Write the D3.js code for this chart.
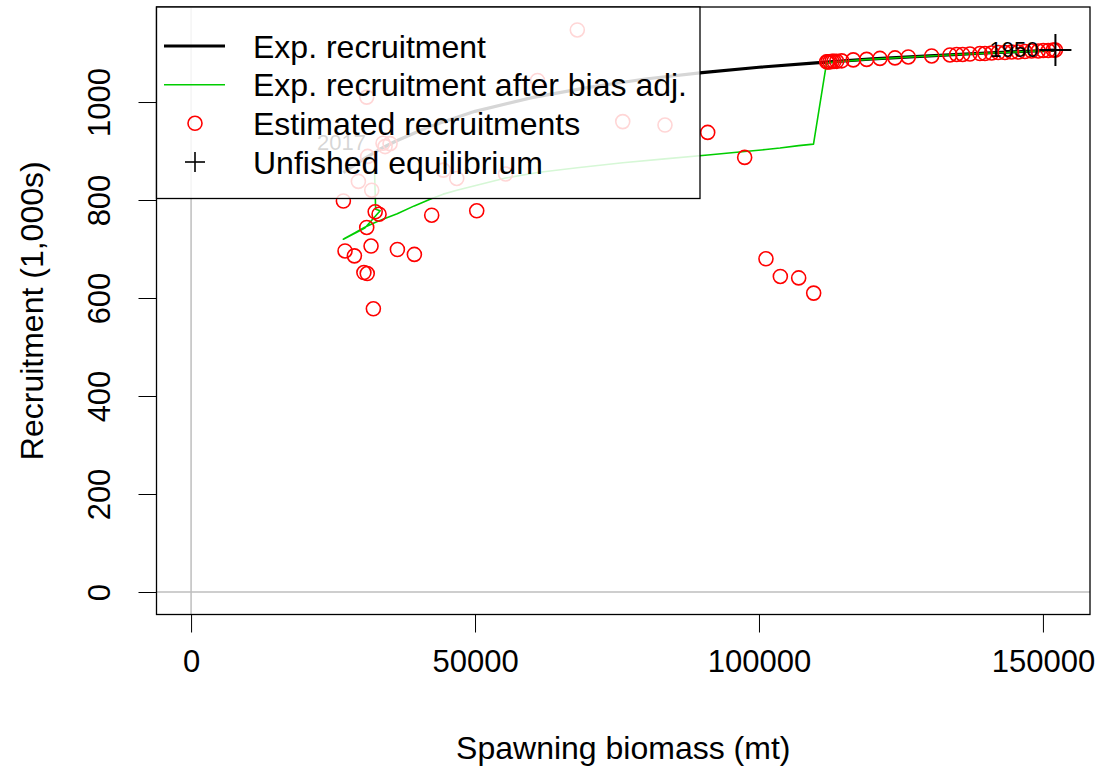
<!DOCTYPE html>
<html>
<head>
<meta charset="utf-8">
<script src="https://cdn.jsdelivr.net/npm/d3@7"></script>
<style>
  html, body { margin: 0; padding: 0; background: #ffffff; }
  svg { display: block; font-family: "Liberation Sans", Arial, Helvetica, sans-serif; }
</style>
</head>
<body>
<svg id="chart" width="1097" height="768"></svg>
<script>
// ---------------- data ----------------
const xLim = [0, 152200];   // spawning biomass range (mt)
const yLim = [0, 1148];     // recruitment range (1,000s)
const xTicks = [0, 50000, 100000, 150000];
const yTicks = [0, 200, 400, 600, 800, 1000];

// Expected recruitment curve (SSB, R) sorted by SSB
const expSSB = [26820, 30000, 33000, 36000, 42000, 50000, 60000, 70000, 80000, 90000, 100000, 110000, 120000, 130000, 140000, 152200];
const expRec = [856, 881, 902, 920, 950, 981, 1009, 1030, 1047, 1060, 1071, 1080, 1088, 1094, 1100, 1106];

// Expected recruitment after bias adjustment (path order, 1950 -> 2017)
const adjSSB = [152200, 145000, 135000, 125000, 118000, 111900, 109600, 107000, 103700, 101200, 97500, 91000, 83400, 76000, 68000, 61000, 55400, 50300, 46800, 44400, 42400, 39300, 36300, 34000, 32000, 30500, 28800, 27100, 26820, 30600, 33300, 32500, 32300];
const adjRec = [1106, 1102, 1097, 1091, 1086, 1080, 914, 911, 906, 903, 899, 892, 884, 876, 866, 856, 845, 830, 820, 812, 803, 788, 772, 762, 752, 744, 733, 722, 720, 743, 778, 781, 861];

// Estimated recruitments (SSB, R)
const estSSB = [
  152200, 151820, 150940, 150060, 149180, 148010, 146830, 145660, 144490, 143310,
  142130, 140970, 139790, 138910, 137150, 135870, 134810, 133630, 130410, 126290,
  123950, 121300, 118960, 116600, 114560, 113680, 113210, 112860, 112500, 112150,
  111920, 109630, 106990, 103760, 101230, 97480, 90970, 83450, 76010, 68010,
  61000, 55370, 50300, 46780, 44420, 42370, 39320, 36330, 35040, 34160,
  32420, 33100, 32100, 31810, 31690, 31100, 30930, 30930, 30430, 31020,
  29460, 28760, 27110, 26820, 33800
];
const estRec = [
  1106, 1106, 1105, 1105, 1104, 1104, 1103, 1102, 1102, 1101,
  1101, 1100, 1099, 1099, 1098, 1097, 1097, 1096, 1094, 1092,
  1090, 1089, 1087, 1086, 1084, 1083, 1083, 1083, 1082, 1082,
  1082, 610, 641, 644, 680, 887, 938, 953, 960, 1147,
  1044, 853, 778, 844, 861, 769, 689, 699, 915, 909,
  776, 771, 578, 820, 706, 889, 744, 1010, 652, 650,
  838, 686, 696, 798, 916
];

// Year labels for first and last points
const yearLabels = ["1950", "2017"];
const yearLabelSSB = [152200, 33800];
const yearLabelRec = [1109, 919];

// Unfished equilibrium
const unfishedSSB = [152200];
const unfishedRec = [1106];

const legendLabels = ["Exp. recruitment", "Exp. recruitment after bias adj.", "Estimated recruitments", "Unfished equilibrium"];

// ---------------- layout ----------------
const W = 1097, H = 768;
const plotL = 156.5, plotR = 1090, plotT = 7, plotB = 614.5;
const padX = (xLim[1] - xLim[0]) * 0.04, padY = (yLim[1] - yLim[0]) * 0.04;

const svg = d3.select("#chart");
const x = d3.scaleLinear().domain([xLim[0] - padX, xLim[1] + padX]).range([plotL, plotR]);
const y = d3.scaleLinear().domain([yLim[0] - padY, yLim[1] + padY]).range([plotB, plotT]);

const FS = 32, TFS = 31;

// clip to plot region
svg.append("defs").append("clipPath").attr("id", "clip")
  .append("rect").attr("x", plotL).attr("y", plotT).attr("width", plotR - plotL).attr("height", plotB - plotT);

const g = svg.append("g").attr("clip-path", "url(#clip)");

// gray reference lines at 0
g.append("line").attr("x1", x(0)).attr("x2", x(0)).attr("y1", plotT).attr("y2", plotB)
  .attr("stroke", "#bebebe").attr("stroke-width", 1.5);
g.append("line").attr("x1", plotL).attr("x2", plotR).attr("y1", y(0)).attr("y2", y(0))
  .attr("stroke", "#bebebe").attr("stroke-width", 1.5);

// expected recruitment line
const lineGen = d3.line().x(d => x(d[0])).y(d => y(d[1]));
g.append("path").datum(expSSB.map((s, i) => [s, expRec[i]]))
  .attr("d", lineGen).attr("fill", "none").attr("stroke", "#000").attr("stroke-width", 3.2)
  .attr("stroke-linejoin", "round");

// bias-adjusted line
g.append("path").datum(adjSSB.map((s, i) => [s, adjRec[i]]))
  .attr("d", lineGen).attr("fill", "none").attr("stroke", "#00cd00").attr("stroke-width", 1.6)
  .attr("stroke-linejoin", "round");

// estimated recruitments
g.selectAll("circle.est").data(estSSB.map((s, i) => [s, estRec[i]])).enter()
  .append("circle").attr("class", "est")
  .attr("cx", d => x(d[0])).attr("cy", d => y(d[1])).attr("r", 7)
  .attr("fill", "none").attr("stroke", "#ff0000").attr("stroke-width", 1.6);

// year labels
g.selectAll("text.yr").data(yearLabels).enter().append("text").attr("class", "yr")
  .attr("x", (d, i) => x(yearLabelSSB[i]) - 17)
  .attr("y", (d, i) => y(yearLabelRec[i]))
  .attr("dy", "0.36em").attr("text-anchor", "end")
  .attr("font-size", 22).attr("fill", "#000").text(d => d);

// unfished equilibrium cross
unfishedSSB.forEach((s, i) => {
  const cx = x(s), cy = y(unfishedRec[i]), h = 16;
  g.append("line").attr("x1", cx - h).attr("x2", cx + h).attr("y1", cy).attr("y2", cy).attr("stroke", "#000").attr("stroke-width", 2);
  g.append("line").attr("x1", cx).attr("x2", cx).attr("y1", cy - h).attr("y2", cy + h).attr("stroke", "#000").attr("stroke-width", 2);
});

// ---------------- axes ----------------
const tickLen = 18;
const xAxis = svg.append("g").attr("transform", `translate(0,${plotB})`)
  .call(d3.axisBottom(x).tickValues(xTicks).tickFormat(d3.format("d")).tickSize(tickLen).tickSizeOuter(0));
xAxis.select(".domain").attr("d", `M${x(xTicks[0])},0H${x(xTicks[xTicks.length - 1])}`).attr("stroke", "#000").attr("stroke-width", 1);
xAxis.selectAll(".tick line").attr("stroke", "#000").attr("stroke-width", 1);
xAxis.selectAll(".tick text").attr("font-size", TFS).attr("font-family", "Liberation Sans, Arial, sans-serif")
  .attr("fill", "#000").attr("y", 0).attr("dy", "1.85em");

const yAxis = svg.append("g").attr("transform", `translate(${plotL},0)`)
  .call(d3.axisLeft(y).tickValues(yTicks).tickFormat(d3.format("d")).tickSize(tickLen).tickSizeOuter(0));
yAxis.select(".domain").attr("d", `M0,${y(yTicks[0])}V${y(yTicks[yTicks.length - 1])}`).attr("stroke", "#000").attr("stroke-width", 1);
yAxis.selectAll(".tick line").attr("stroke", "#000").attr("stroke-width", 1);
yAxis.selectAll(".tick text").attr("font-size", TFS).attr("font-family", "Liberation Sans, Arial, sans-serif")
  .attr("fill", "#000")
  .attr("x", null).attr("dy", null)
  .attr("transform", "translate(-57,0) rotate(-90)")
  .attr("text-anchor", "middle").attr("dominant-baseline", "central").attr("y", 0);

// plot box
svg.append("rect").attr("x", plotL).attr("y", plotT).attr("width", plotR - plotL).attr("height", plotB - plotT)
  .attr("fill", "none").attr("stroke", "#000").attr("stroke-width", 1.3);

// axis titles
svg.append("text").attr("x", (plotL + plotR) / 2).attr("y", 759).attr("text-anchor", "middle")
  .attr("font-size", FS).attr("fill", "#000").text("Spawning biomass (mt)");
svg.append("text").attr("transform", `translate(43,${(plotT + plotB) / 2}) rotate(-90)`)
  .attr("text-anchor", "middle").attr("font-size", FS).attr("fill", "#000").text("Recruitment (1,000s)");

// ---------------- legend ----------------
const lg = svg.append("g");
const lgL = plotL, lgT = plotT, lgR = 700, lgB = 198.5;
lg.append("rect").attr("x", lgL).attr("y", lgT).attr("width", lgR - lgL).attr("height", lgB - lgT)
  .attr("fill", "rgba(255,255,255,0.84)").attr("stroke", "#000").attr("stroke-width", 1.3);
const rowY = [46, 84.7, 123.3, 162];
// row 1: thick black line
lg.append("line").attr("x1", 164).attr("x2", 225).attr("y1", rowY[0]).attr("y2", rowY[0]).attr("stroke", "#000").attr("stroke-width", 3.2);
// row 2: green line
lg.append("line").attr("x1", 164).attr("x2", 225).attr("y1", rowY[1]).attr("y2", rowY[1]).attr("stroke", "#00cd00").attr("stroke-width", 1.6);
// row 3: red circle
lg.append("circle").attr("cx", 195).attr("cy", rowY[2]).attr("r", 7).attr("fill", "none").attr("stroke", "#ff0000").attr("stroke-width", 1.6);
// row 4: cross
lg.append("line").attr("x1", 185).attr("x2", 205).attr("y1", rowY[3]).attr("y2", rowY[3]).attr("stroke", "#000").attr("stroke-width", 1.6);
lg.append("line").attr("x1", 195).attr("x2", 195).attr("y1", rowY[3] - 10).attr("y2", rowY[3] + 10).attr("stroke", "#000").attr("stroke-width", 1.6);
lg.selectAll("text.lab").data(legendLabels).enter().append("text").attr("class", "lab")
  .attr("x", 253).attr("y", (d, i) => rowY[i]).attr("dy", "0.36em")
  .attr("font-size", FS).attr("fill", "#000").text(d => d);
</script>
</body>
</html>
